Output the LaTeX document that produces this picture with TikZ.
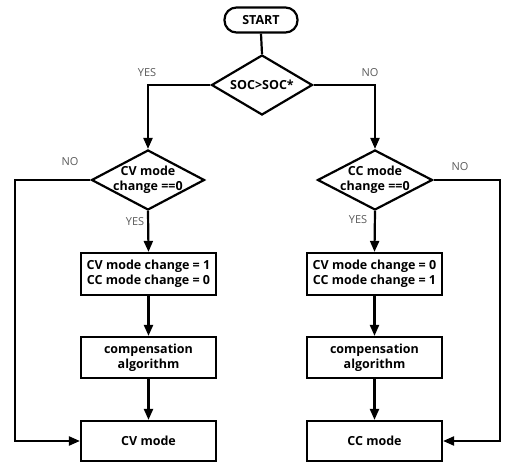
\documentclass[tikz,border=0pt]{standalone}
\usepackage{fontspec}
\setmainfont{Open Sans}
\usetikzlibrary{shapes.geometric,arrows.meta}
\begin{document}
\begin{tikzpicture}[x=1pt,y=-1pt,
  line width=2.2pt,
  box/.style={draw,rectangle,minimum width=135pt,inner sep=0pt,align=center,font=\fontsize{12.5}{15}\selectfont\bfseries},
  dia/.style={draw,diamond,inner sep=0pt},
  diatext/.style={align=center,font=\fontsize{12.5}{15}\selectfont\bfseries,inner sep=0pt},
  lbl/.style={text=black!65,font=\fontsize{11}{13}\selectfont,inner sep=0pt},
  arr/.style={-{Triangle[length=11pt,width=9pt]}}]
\useasboundingbox (0,0) rectangle (507,462);
\node[draw,rounded corners=12pt,minimum width=73pt,minimum height=25pt,inner sep=0pt,font=\fontsize{12.5}{15}\selectfont\bfseries] (start) at (261,20) {START};
\node[dia,minimum width=101pt,minimum height=60pt] (d0) at (262,85) {};
\node[diatext] (t0) at (d0) {SOC>SOC*};
\node[dia,minimum width=113pt,minimum height=60pt] (dl) at (148,180) {};
\node[diatext] (tl) at (dl) {CV mode\\change ==0};
\node[dia,minimum width=115pt,minimum height=60pt] (dr) at (375,180) {};
\node[diatext] (tr) at (dr) {CC mode\\change ==0};
\node[box,minimum height=42pt] (l1) at (148.5,274) {CV mode change = 1\\CC mode change = 0};
\node[box,minimum height=41pt] (l2) at (148.5,357.5) {compensation\\algorithm};
\node[box,minimum height=40pt] (l3) at (148.5,441) {CV mode};
\node[box,minimum height=42pt] (r1) at (374.5,274) {CV mode change = 0\\CC mode change = 1};
\node[box,minimum height=41pt] (r2) at (374.5,357.5) {compensation\\algorithm};
\node[box,minimum height=40pt] (r3) at (374.5,441) {CC mode};
\coordinate (lc) at (15,180);
\coordinate (rc) at (500,180);
\draw (start.south) -- (d0.north);
\draw[arr] (d0.west) -| (dl.north);
\draw[arr] (d0.east) -| (dr.north);
\draw[arr] (dl.south) -- (l1.north);
\draw[arr] (l1.south) -- (l2.north);
\draw[arr] (l2.south) -- (l3.north);
\draw[arr] (dr.south) -- (r1.north);
\draw[arr] (r1.south) -- (r2.north);
\draw[arr] (r2.south) -- (r3.north);
\draw[arr] (dl.west) -- (lc) |- (l3.west);
\draw[arr] (dr.east) -- (rc) |- (r3.east);
\node[lbl] (y0) at (147,73) {YES};
\node[lbl] (n0) at (370,73) {NO};
\node[lbl] (nl) at (70,162) {NO};
\node[lbl] (yl) at (135,222) {YES};
\node[lbl] (nr) at (460,167) {NO};
\node[lbl] (yr) at (358,220) {YES};
\end{tikzpicture}
\end{document}
